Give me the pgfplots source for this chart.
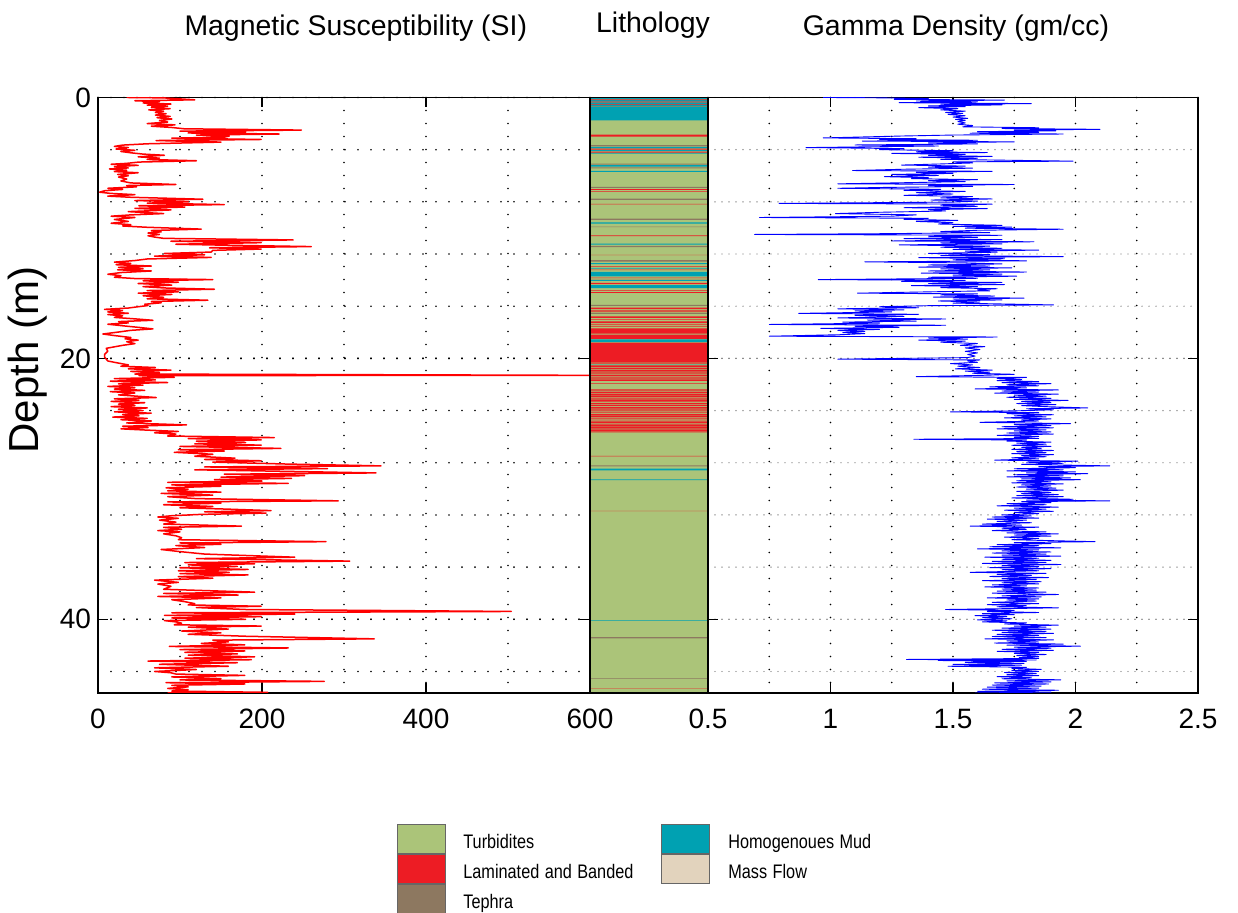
\documentclass[border=0pt]{standalone}
\usepackage{fontspec}
\setmainfont{Liberation Sans}
\usepackage{pgfplots}
\pgfplotsset{compat=1.18}

\definecolor{turb}{RGB}{171,196,121}
\definecolor{lamin}{RGB}{237,28,36}
\definecolor{tephra}{RGB}{141,120,96}
\definecolor{hmud}{RGB}{0,161,178}
\definecolor{massflow}{RGB}{226,211,189}

\tikzset{
  dotgrid/.style={black, line cap=round, line width=0.9pt, dash pattern=on 0pt off 6.5pt},
  greydots/.style={black!55, line cap=round, line width=0.7pt, dash pattern=on 0pt off 3.5pt},
}
\pgfplotsset{
  logaxis/.style={
    scale only axis, height=297.75pt, anchor=south west,
    ymin=0, ymax=45.65, y dir=reverse, enlargelimits=false,
    axis line style={line width=0.6pt},
    tick style={black, line width=0.6pt},
    tick align=inside, major tick length=5pt, minor tick length=0pt,
    tick label style={font=\fontsize{14}{16}\selectfont},
    xticklabel style={yshift=-4.5pt},
    ytick={0,20,40},
    every axis title/.style={anchor=base, font=\fontsize{14.2}{17}\selectfont},
  },
}
\newcommand{\legtext}[1]{\scalebox{0.83}[1]{#1}}

\begin{document}
\begin{tikzpicture}
\useasboundingbox (0,0) rectangle (619pt,456.5pt);

% magnetic susceptibility
\begin{axis}[logaxis, at={(49pt,110pt)}, width=246pt,
  xmin=0, xmax=600, xtick={0,200,400,600}, xticklabels={0,200,400,600},
  minor xtick={100,300,500},
  yticklabels={0,20,40}, minor ytick={4,8,...,44},
  grid=both, major grid style={dotgrid}, minor grid style={dotgrid},
  title={Magnetic Susceptibility (SI)},
  title style={at={(axis description cs:0.524,1)}, yshift=30.75pt},
  ylabel={Depth (m)},
  every axis y label/.style={at={(axis description cs:-0.1423,0.559)}, rotate=90, anchor=center, font=\fontsize{21}{24}\selectfont},
]
\addplot[red, line width=0.75pt, line join=round] coordinates {
(35,0.00) (80,0.03) (118,0.18) (45,0.25) (75,0.32) (55,0.42) (89,0.5) (60,0.58) (85,0.66) (65,0.75)
(88,0.86) (62,0.95) (80,1.05) (70,1.15) (83,1.25) (70,1.35) (88,1.45) (72,1.55) (90,1.65) (75,1.76)
(85,1.88) (60,2.0) (94,2.1) (65,2.2) (90,2.3) (105,2.4) (248,2.5) (100,2.58) (180,2.65) (110,2.72)
(221,2.8) (120,2.88) (160,2.96) (154,3.04) (90,3.12) (199,3.22) (71,3.3) (150,3.42) (60,3.55) (30,3.65)
(20,3.75) (37,3.84) (22,3.95) (45,4.05) (28,4.14) (40,4.24) (55,4.34) (81,4.43) (49,4.55) (75,4.65)
(60,4.75) (120,4.85) (50,4.95) (35,5.05) (16,5.12) (49,5.2) (20,5.3) (37,5.4) (14,5.48) (35,5.58)
(20,5.68) (49,5.77) (24,5.9) (37,6.0) (25,6.1) (35,6.25) (28,6.4) (40,6.55) (95,6.67) (35,6.75)
(47,6.85) (12,6.96) (30,7.05) (8,7.15) (2,7.26) (15,7.35) (45,7.45) (12,7.56) (40,7.65) (128,7.8)
(45,7.9) (110,8.0) (60,8.1) (154,8.21) (50,8.3) (106,8.4) (45,8.5) (89,8.62) (37,8.75) (80,8.9)
(40,9.0) (16,9.1) (45,9.2) (20,9.35) (37,9.5) (16,9.64) (40,9.75) (30,9.85) (60,9.95) (126,10.09)
(65,10.2) (77,10.3) (61,10.39) (75,10.5) (61,10.6) (69,10.7) (80,10.8) (238,10.92) (89,11.02) (199,11.13)
(95,11.25) (160,11.33) (260,11.43) (136,11.52) (199,11.62) (140,11.72) (138,11.85) (81,11.96) (130,12.06) (69,12.16)
(138,12.26) (60,12.38) (45,12.5) (20,12.62) (40,12.72) (22,12.82) (65,12.92) (25,13.02) (55,13.12) (24,13.21)
(65,13.3) (28,13.42) (12,13.55) (28,13.66) (20,13.78) (45,13.88) (140,13.96) (55,14.05) (98,14.16) (49,14.26)
(90,14.38) (55,14.5) (80,14.6) (142,14.7) (60,14.8) (98,14.9) (49,15.0) (90,15.1) (55,15.2) (80,15.32)
(60,15.43) (134,15.54) (65,15.64) (77,15.74) (57,15.85) (61,15.95) (49,16.04) (37,16.14) (8,16.24) (30,16.34)
(12,16.44) (37,16.54) (12,16.64) (30,16.74) (20,16.86) (45,16.97) (67,17.08) (25,17.18) (37,17.28) (12,17.38)
(30,17.5) (49,17.62) (67,17.74) (40,17.85) (25,17.98) (6,18.13) (20,18.25) (40,18.4) (33,18.5) (49,18.6)
(35,18.72) (45,18.87) (30,19.0) (10,19.23) (12,19.45) (8,19.7) (8,19.9) (12,20.2) (24,20.35) (37,20.5)
(28,20.6) (70,20.7) (37,20.8) (89,20.9) (40,21.0) (75,21.1) (45,21.2) (600,21.3) (50,21.32) (93,21.45)
(20,21.55) (70,21.65) (15,21.75) (85,21.85) (25,21.95) (55,22.05) (12,22.15) (45,22.25) (20,22.35) (57,22.45)
(15,22.55) (45,22.65) (25,22.8) (71,23.0) (20,23.1) (50,23.2) (16,23.3) (57,23.4) (25,23.5) (45,23.6)
(16,23.7) (60,23.8) (25,23.9) (55,24.0) (20,24.1) (65,24.2) (30,24.3) (50,24.4) (18,24.5) (60,24.6)
(28,24.7) (65,24.8) (35,24.95) (108,25.1) (30,25.2) (61,25.3) (28,25.4) (60,25.5) (98,25.6) (69,25.7)
(95,25.8) (85,25.95) (215,26.07) (110,26.15) (199,26.25) (120,26.35) (180,26.45) (118,26.55) (199,26.65) (100,26.75)
(223,26.9) (98,27.0) (154,27.1) (93,27.2) (140,27.35) (118,27.5) (167,27.65) (130,27.75) (199,27.85) (140,27.95)
(230,28.1) (345,28.24) (130,28.32) (280,28.45) (118,28.54) (220,28.65) (339,28.78) (154,28.88) (252,28.99) (150,29.1)
(236,29.2) (142,29.29) (200,29.4) (85,29.5) (232,29.58) (90,29.7) (150,29.8) (83,29.92) (110,30.03) (85,30.15)
(150,30.25) (77,30.35) (140,30.48) (85,30.6) (120,30.75) (293,30.92) (85,31.0) (150,31.1) (80,31.22) (140,31.35)
(100,31.45) (155,31.55) (211,31.67) (130,31.76) (205,31.86) (125,31.96) (90,32.06) (73,32.16) (98,32.26) (75,32.4)
(95,32.55) (80,32.7) (175,32.86) (80,32.95) (102,33.1) (73,33.2) (100,33.3) (80,33.45) (95,33.6) (102,33.75)
(98,33.9) (278,34.05) (100,34.15) (150,34.25) (95,34.35) (130,34.5) (77,34.65) (98,34.8) (130,35.0) (240,35.24)
(120,35.35) (307,35.54) (106,35.65) (191,35.75) (110,35.83) (170,35.95) (100,36.05) (183,36.18) (98,36.28) (160,36.4)
(100,36.5) (183,36.6) (98,36.73) (140,36.85) (69,37.0) (98,37.17) (73,37.3) (89,37.47) (80,37.7) (191,37.92)
(80,38.02) (171,38.14) (73,38.25) (150,38.36) (90,38.5) (106,38.65) (118,38.8) (110,38.9) (199,39.0) (120,39.1)
(180,39.25) (504,39.4) (90,39.5) (240,39.6) (81,39.7) (199,39.8) (90,39.9) (180,40.0) (81,40.1) (95,40.2)
(102,40.3) (93,40.42) (199,40.52) (110,40.6) (159,40.75) (102,40.9) (150,41.04) (110,41.15) (180,41.3) (337,41.5)
(140,41.6) (159,41.73) (126,41.85) (179,41.96) (87,42.08) (232,42.2) (100,42.32) (179,42.43) (106,42.53) (170,42.65)
(110,42.75) (191,42.88) (106,42.98) (187,43.1) (61,43.2) (170,43.33) (75,43.45) (159,43.6) (69,43.72) (120,43.85)
(69,44.0) (89,44.1) (95,44.2) (179,44.3) (90,44.42) (150,44.55) (100,44.65) (276,44.76) (83,44.86) (179,44.96)
(90,45.06) (110,45.18) (85,45.3) (110,45.4) (90,45.5) (207,45.6) (85,45.65)
};
\end{axis}

% lithology column
\begin{axis}[logaxis, at={(295pt,110pt)}, width=59pt,
  xmin=0, xmax=1, xtick=\empty, ytick=\empty, axis on top,
  title={Lithology},
  title style={at={(axis description cs:0.534,1)}, yshift=32.25pt},
  legend columns=2, legend cell align=left,
  legend image code/.code={\draw[#1] (0pt,-7.25pt) rectangle (24pt,7.25pt);},
  legend style={at={(axis description cs:-1.6356,-0.22)}, anchor=north west,
    draw=none, fill=none, inner sep=0pt, row sep=0pt,
    font=\fontsize{9.8}{11}\selectfont,
    nodes={inner sep=0pt, text width=99pt, align=left, yshift=-1.5pt},
    /tikz/column 1/.style={column sep=8.5pt},
    /tikz/column 2/.style={column sep=0pt},
    /tikz/column 3/.style={column sep=9pt}},
]
\addplot[xbar interval, fill=turb, draw=none, forget plot] coordinates {(1,0) (1,45.65)};
\addplot[xbar interval, fill=hmud, draw=none, forget plot] coordinates {
(1,0) (0,0.15) (1,0.2) (0,0.32) (1,0.37) (0,0.5) (1,0.55) (0,0.66) (1,0.71) (0,1.75)
(1,3.78) (0,3.9) (1,4.03) (0,4.12) (1,4.22) (0,4.3) (1,5.19) (0,5.3) (1,5.62) (0,5.7)
(1,9.58) (0,9.67) (1,11.2) (0,11.28) (1,12.7) (0,12.78) (1,13.06) (0,13.11) (1,13.36) (0,13.72)
(1,14.0) (0,14.05) (1,14.38) (0,14.62) (1,18.55) (0,18.75) (1,20.48) (0,20.52) (1,28.45) (0,28.58)
(1,29.27) (0,29.33) (1,40.08) (0,40.12)
};
\addplot[xbar interval, fill=tephra, draw=none, forget plot] coordinates {
(1,0.66) (0,0.71) (1,3.66) (0,3.74) (1,5.07) (0,5.14) (1,5.35) (0,5.43) (1,6.85) (0,6.92)
(1,7.75) (0,7.85) (1,9.28) (0,9.38) (1,9.9) (0,9.93) (1,11.38) (0,11.48) (1,12.47) (0,12.58)
(1,13.9) (0,13.95) (1,15.9) (0,15.98) (1,16.52) (0,16.58) (1,28.2) (0,28.28) (1,41.36) (0,41.46)
(1,44.53) (0,44.57)
};
\addplot[xbar interval, fill=lamin, draw=none, forget plot] coordinates {
(1,0.15) (0,0.2) (1,0.32) (0,0.37) (1,0.5) (0,0.55) (1,2.85) (0,3.0) (1,3.92) (0,3.99)
(1,4.15) (0,4.22) (1,7.03) (0,7.08) (1,7.17) (0,7.21) (1,8.15) (0,8.2) (1,10.58) (0,10.62)
(1,12.06) (0,12.09) (1,12.94) (0,12.99) (1,13.2) (0,13.23) (1,13.8) (0,13.84) (1,14.22) (0,14.3)
(1,14.76) (0,14.8) (1,14.92) (0,14.97) (1,16.1) (0,16.22) (1,16.3) (0,16.33) (1,16.4) (0,16.46)
(1,16.78) (0,16.9) (1,17.0) (0,17.03) (1,17.17) (0,17.3) (1,17.4) (0,17.45) (1,17.55) (0,17.58)
(1,17.7) (0,18.1) (1,18.18) (0,18.5) (1,18.8) (0,20.26) (1,20.3) (0,20.4) (1,20.52) (0,20.56)
(1,20.6) (0,20.66) (1,20.7) (0,20.82) (1,20.88) (0,20.95) (1,21.0) (0,21.1) (1,21.14) (0,21.22)
(1,21.28) (0,21.34) (1,21.4) (0,21.48) (1,21.54) (0,21.6) (1,21.64) (0,21.72) (1,21.9) (0,21.94)
(1,22.35) (0,22.4) (1,22.45) (0,22.52) (1,22.59) (0,22.66) (1,22.73) (0,22.85) (1,22.9) (0,22.96)
(1,23.01) (0,23.08) (1,23.15) (0,23.26) (1,23.29) (0,23.36) (1,23.43) (0,23.5) (1,23.57) (0,23.64)
(1,23.71) (0,23.85) (1,23.9) (0,23.95) (1,23.99) (0,24.06) (1,24.13) (0,24.2) (1,24.27) (0,24.38)
(1,24.42) (0,24.48) (1,24.55) (0,24.62) (1,24.69) (0,24.76) (1,24.83) (0,24.97) (1,25.02) (0,25.08)
(1,25.12) (0,25.18) (1,25.22) (0,25.32) (1,25.36) (0,25.46) (1,25.5) (0,25.6) (1,25.63) (0,25.68)
(1,27.48) (0,27.52) (1,31.68) (0,31.71) (1,45.3) (0,45.32)
};
\addlegendimage{fill=turb, draw=black!60, line width=0.5pt}
\addlegendentry{\legtext{Turbidites}}
\addlegendimage{fill=hmud, draw=black!60, line width=0.5pt}
\addlegendentry{\legtext{Homogenoues Mud}}
\addlegendimage{fill=lamin, draw=black!60, line width=0.5pt}
\addlegendentry{\legtext{Laminated and Banded}}
\addlegendimage{fill=massflow, draw=black!60, line width=0.5pt}
\addlegendentry{\legtext{Mass Flow}}
\addlegendimage{fill=tephra, draw=black!60, line width=0.5pt}
\addlegendentry{\legtext{Tephra}}
\end{axis}

% gamma density
\begin{axis}[logaxis, at={(354pt,110pt)}, width=245pt,
  xmin=0.5, xmax=2.5, xtick={0.5,1,1.5,2,2.5}, xticklabels={0.5,1,1.5,2,2.5},
  minor xtick={0.75,1.25,1.75,2.25},
  yticklabels={,,}, minor ytick={4,8,...,44},
  grid=both,
  major x grid style={dotgrid}, minor x grid style={dotgrid},
  major y grid style={greydots}, minor y grid style={greydots},
  title={Gamma Density (gm/cc)},
  title style={at={(axis description cs:0.506,1)}, yshift=30.75pt},
]
\addplot[blue, line width=0.45pt, line join=round] coordinates {
(0.97,0) (1.17,0.02) (1.40,0.08) (1.26,0.14) (1.71,0.2) (1.35,0.27) (1.60,0.33) (1.28,0.4) (1.82,0.47) (1.45,0.52)
(1.70,0.57) (1.40,0.64) (1.55,0.7) (1.36,0.78) (1.52,0.86) (1.45,0.95) (1.55,1.05) (1.47,1.15) (1.54,1.22) (1.48,1.3)
(1.55,1.4) (1.50,1.5) (1.56,1.6) (1.51,1.68) (1.55,1.76) (1.52,1.85) (1.55,1.95) (1.52,2.05) (1.58,2.15) (1.54,2.25)
(1.85,2.32) (1.70,2.38) (2.10,2.44) (1.75,2.5) (1.92,2.56) (1.60,2.62) (1.85,2.68) (1.57,2.74) (1.95,2.8) (1.50,2.88)
(1.30,2.95) (0.97,3.1) (1.35,3.16) (1.20,3.22) (1.60,3.28) (1.13,3.34) (1.75,3.4) (1.40,3.48) (1.60,3.56) (1.10,3.64)
(1.44,3.72) (0.90,3.84) (1.30,3.92) (1.20,4.0) (1.50,4.08) (1.35,4.16) (1.64,4.22) (1.25,4.29) (1.55,4.36) (1.40,4.44)
(1.66,4.52) (1.36,4.58) (1.60,4.66) (1.45,4.74) (1.99,4.88) (1.50,4.94) (1.58,5.02) (1.44,5.1) (1.29,5.18) (1.55,5.26)
(1.40,5.34) (1.58,5.42) (1.30,5.5) (1.09,5.6) (1.66,5.66) (1.35,5.74) (1.50,5.82) (1.25,5.9) (1.44,5.98) (1.22,6.07)
(1.40,6.15) (1.33,6.22) (1.60,6.3) (1.40,6.37) (1.55,6.45) (1.25,6.55) (1.03,6.62) (1.75,6.67) (1.40,6.74) (1.58,6.82)
(1.20,6.9) (1.03,6.96) (1.45,7.04) (1.30,7.12) (1.55,7.2) (1.35,7.3) (1.50,7.4) (1.30,7.5) (1.58,7.6) (1.45,7.7)
(1.66,7.78) (1.41,7.86) (1.60,7.94) (1.50,8.02) (0.79,8.12) (1.66,8.18) (1.45,8.26) (1.60,8.34) (1.30,8.45) (1.64,8.52)
(1.40,8.6) (1.47,8.7) (1.20,8.8) (1.02,8.9) (1.35,9.0) (1.25,9.1) (0.71,9.2) (1.40,9.26) (1.30,9.34) (1.52,9.42)
(1.35,9.5) (1.50,9.6) (1.44,9.7) (1.70,9.8) (1.50,9.88) (1.74,9.94) (1.55,10.02) (1.95,10.1) (1.60,10.18) (1.45,10.28)
(1.65,10.36) (1.22,10.44) (0.69,10.5) (1.70,10.56) (1.40,10.64) (1.60,10.72) (1.30,10.82) (1.70,10.9) (1.25,11.0) (1.83,11.06)
(1.45,11.14) (1.70,11.22) (1.28,11.3) (1.65,11.4) (1.45,11.48) (1.70,11.56) (1.50,11.64) (1.85,11.7) (1.55,11.78) (1.68,11.86)
(1.40,11.95) (1.65,12.05) (1.45,12.12) (1.95,12.2) (1.36,12.28) (1.71,12.36) (1.50,12.44) (1.80,12.52) (1.14,12.6) (1.55,12.68)
(1.70,12.76) (1.40,12.84) (1.65,12.92) (1.36,13.0) (1.74,13.06) (1.45,13.14) (1.65,13.22) (1.40,13.3) (1.80,13.38) (1.37,13.46)
(1.70,13.54) (1.50,13.62) (1.76,13.7) (1.40,13.78) (1.60,13.86) (0.95,13.96) (1.55,14.02) (1.29,14.1) (1.70,14.18) (1.40,14.26)
(1.71,14.34) (1.33,14.42) (1.60,14.5) (1.45,14.58) (1.68,14.66) (1.60,14.74) (1.65,14.82) (1.40,14.9) (1.11,15.0) (1.60,15.06)
(1.45,15.14) (1.67,15.22) (1.42,15.3) (1.79,15.38) (1.50,15.45) (1.70,15.52) (1.44,15.6) (1.61,15.68) (1.50,15.76) (1.91,15.9)
(1.40,15.96) (1.20,16.04) (1.36,16.12) (1.03,16.2) (1.30,16.28) (1.10,16.36) (1.25,16.44) (0.87,16.55) (1.36,16.62) (1.10,16.7)
(1.30,16.78) (1.03,16.9) (1.47,16.98) (1.15,17.06) (1.35,17.14) (1.05,17.22) (1.20,17.3) (0.75,17.4) (1.47,17.46) (1.10,17.54)
(1.28,17.62) (0.96,17.7) (1.20,17.78) (1.03,17.86) (1.14,17.94) (1.05,18.02) (1.14,18.1) (1.05,18.18) (0.75,18.3) (1.68,18.36)
(1.40,18.44) (1.56,18.52) (1.36,18.6) (1.55,18.68) (1.45,18.76) (1.60,18.86) (1.53,19.0) (1.63,19.1) (1.55,19.2) (1.61,19.32)
(1.55,19.46) (1.60,19.58) (1.56,19.7) (1.59,19.82) (1.56,19.94) (1.03,20.06) (1.61,20.12) (1.56,20.2) (1.60,20.3) (1.49,20.4)
(1.58,20.5) (1.52,20.6) (1.61,20.7) (1.51,20.8) (1.66,20.9) (1.55,20.98) (1.65,21.06) (1.58,21.14) (1.75,21.22) (1.62,21.3)
(1.35,21.4) (1.80,21.46) (1.68,21.54) (1.78,21.62) (1.68,21.7) (1.85,21.78) (1.70,21.86) (1.90,21.94) (1.72,22.02) (1.85,22.1)
(1.65,22.18) (1.80,22.26) (1.59,22.34) (1.93,22.42) (1.70,22.5) (1.85,22.58) (1.67,22.66) (1.93,22.74) (1.75,22.82) (1.88,22.9)
(1.72,22.98) (1.90,23.06) (1.75,23.14) (1.97,23.22) (1.78,23.3) (1.90,23.38) (1.76,23.46) (1.92,23.54) (1.78,23.62) (1.88,23.7)
(2.05,23.8) (1.80,23.86) (1.91,23.94) (1.76,24.02) (1.49,24.1) (1.85,24.16) (1.72,24.24) (1.91,24.32) (1.75,24.4) (1.88,24.48)
(1.71,24.56) (1.90,24.64) (1.78,24.72) (1.85,24.8) (1.61,24.9) (1.98,25.0) (1.75,25.08) (1.90,25.16) (1.70,25.24) (1.91,25.32)
(1.68,25.4) (1.88,25.48) (1.75,25.56) (1.90,25.64) (1.72,25.72) (1.91,25.8) (1.68,25.9) (1.85,25.98) (1.75,26.06) (1.85,26.14)
(1.34,26.2) (1.80,26.26) (1.72,26.34) (1.90,26.42) (1.76,26.5) (1.88,26.58) (1.74,26.66) (1.90,26.74) (1.78,26.82) (1.86,26.9)
(1.74,26.98) (1.91,27.06) (1.76,27.14) (1.88,27.22) (1.74,27.3) (1.91,27.38) (1.78,27.46) (1.88,27.54) (1.74,27.62) (1.85,27.7)
(1.67,27.8) (2.01,27.88) (1.80,27.96) (1.95,28.04) (1.78,28.12) (2.14,28.24) (1.85,28.3) (2.00,28.38) (1.75,28.46) (1.95,28.54)
(1.72,28.62) (2.00,28.7) (1.80,28.78) (2.05,28.84) (1.75,28.92) (1.95,29.0) (1.72,29.08) (1.98,29.16) (1.78,29.24) (2.02,29.3)
(1.76,29.38) (1.90,29.46) (1.74,29.54) (1.95,29.62) (1.78,29.7) (1.90,29.78) (1.76,29.86) (1.92,29.94) (1.80,30.02) (1.95,30.1)
(1.76,30.2) (1.90,30.28) (1.78,30.36) (1.93,30.44) (1.76,30.52) (1.95,30.6) (1.74,30.7) (1.99,30.8) (1.80,30.86) (2.14,30.92)
(1.78,30.98) (1.90,31.06) (1.72,31.14) (1.88,31.22) (1.68,31.3) (1.93,31.4) (1.75,31.48) (1.88,31.56) (1.71,31.64) (1.91,31.72)
(1.75,31.8) (1.85,31.9) (1.70,32.0) (1.82,32.08) (1.66,32.16) (1.85,32.24) (1.64,32.32) (1.80,32.4) (1.68,32.5) (1.82,32.6)
(1.62,32.7) (1.78,32.78) (1.57,32.86) (1.85,32.94) (1.70,33.02) (1.80,33.1) (1.66,33.2) (1.88,33.3) (1.72,33.38) (1.93,33.45)
(1.75,33.54) (1.90,33.62) (1.71,33.7) (1.85,33.8) (1.74,33.9) (2.08,34.05) (1.75,34.12) (1.90,34.2) (1.68,34.28) (1.85,34.36)
(1.65,34.44) (1.94,34.52) (1.60,34.6) (1.85,34.68) (1.70,34.76) (1.90,34.84) (1.66,34.92) (1.88,35.0) (1.70,35.08) (1.94,35.16)
(1.63,35.24) (1.85,35.32) (1.70,35.4) (1.90,35.48) (1.66,35.56) (1.88,35.64) (1.62,35.72) (1.94,35.8) (1.70,35.88) (1.85,35.96)
(1.65,36.04) (1.90,36.12) (1.70,36.2) (1.85,36.28) (1.57,36.4) (1.88,36.48) (1.68,36.56) (1.82,36.64) (1.65,36.72) (1.89,36.8)
(1.70,36.88) (1.84,36.96) (1.62,37.04) (1.86,37.12) (1.70,37.2) (1.85,37.28) (1.66,37.36) (1.80,37.44) (1.63,37.52) (1.85,37.6)
(1.70,37.68) (1.84,37.76) (1.68,37.84) (1.88,37.92) (1.66,38.0) (1.93,38.1) (1.70,38.2) (1.86,38.28) (1.64,38.36) (1.85,38.44)
(1.72,38.52) (1.84,38.6) (1.66,38.7) (1.85,38.8) (1.64,38.88) (1.80,38.96) (1.68,39.04) (1.93,39.12) (1.66,39.2) (1.47,39.25)
(1.75,39.32) (1.64,39.4) (1.85,39.48) (1.62,39.56) (1.75,39.64) (1.59,39.72) (1.72,39.8) (1.62,39.88) (1.74,39.96) (1.60,40.04)
(1.72,40.12) (1.62,40.2) (1.80,40.28) (1.71,40.36) (1.93,40.45) (1.75,40.52) (1.88,40.6) (1.70,40.68) (1.90,40.76) (1.66,40.84)
(1.88,40.92) (1.70,41.0) (1.91,41.08) (1.68,41.16) (1.85,41.24) (1.66,41.32) (1.88,41.4) (1.63,41.5) (1.91,41.58) (1.72,41.66)
(1.85,41.74) (1.67,41.82) (1.95,41.9) (1.72,41.98) (2.02,42.06) (1.75,42.14) (1.90,42.22) (1.70,42.3) (1.91,42.38) (1.68,42.46)
(1.85,42.54) (1.75,42.62) (1.88,42.7) (1.76,42.78) (1.85,42.86) (1.77,42.94) (1.85,43.0) (1.31,43.08) (1.84,43.12) (1.44,43.16)
(1.80,43.22) (1.55,43.3) (1.79,43.38) (1.50,43.46) (1.78,43.52) (1.48,43.6) (1.80,43.68) (1.74,43.76) (1.86,43.84) (1.74,43.92)
(1.85,44.0) (1.71,44.08) (1.84,44.16) (1.72,44.24) (1.85,44.32) (1.68,44.4) (1.82,44.48) (1.70,44.56) (1.94,44.64) (1.72,44.72)
(1.90,44.8) (1.67,44.88) (1.89,44.96) (1.66,45.04) (1.86,45.12) (1.64,45.2) (1.85,45.28) (1.62,45.36) (1.93,45.44) (1.60,45.52)
(1.90,45.58) (1.59,45.65)
};
\end{axis}
\end{tikzpicture}
\end{document}
